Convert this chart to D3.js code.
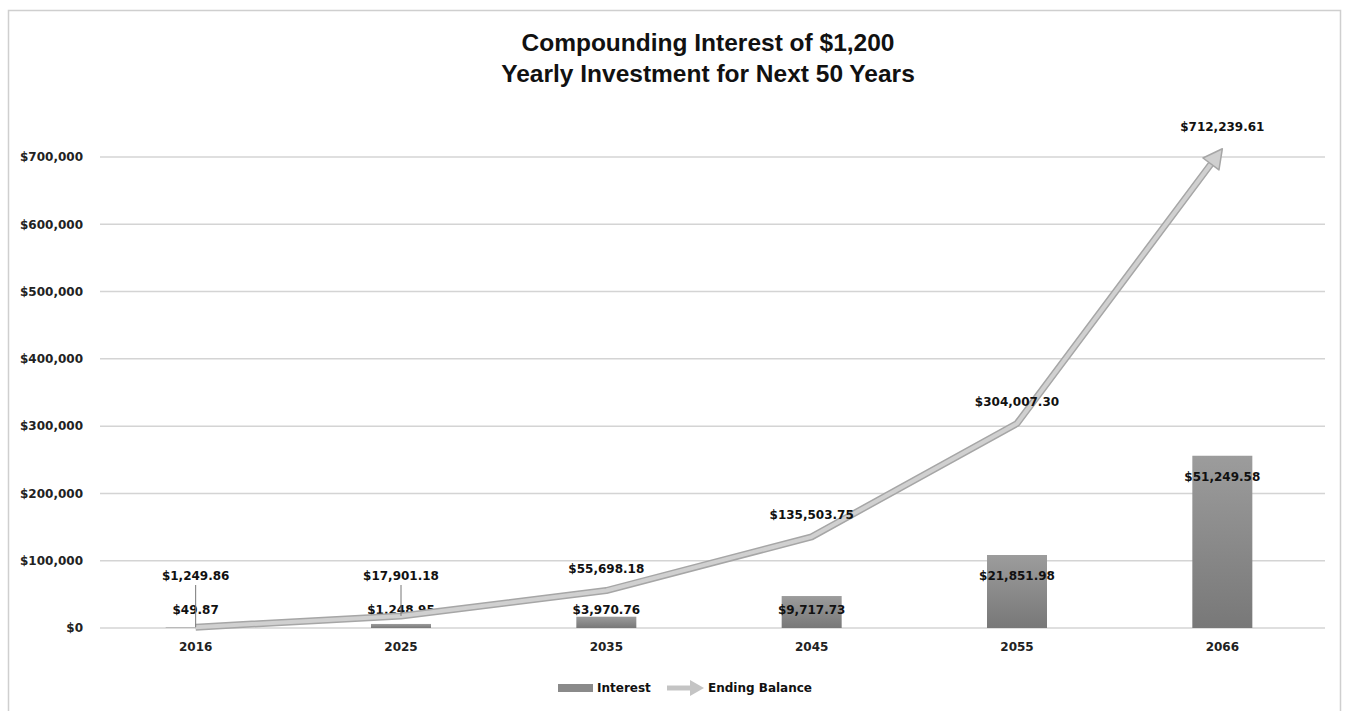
<!DOCTYPE html>
<meta charset="utf-8">
<title>Compounding Interest</title>
<style>
  body { margin: 0; background: #fff; }
  .title { font-family: "Liberation Sans", Arial, sans-serif; font-weight: bold; font-size: 24.5px; fill: #111; }
  .lbl { font-family: "DejaVu Sans", Verdana, sans-serif; font-weight: bold; font-size: 12px; fill: #111; }
  .axis text { font-family: "DejaVu Sans", Verdana, sans-serif; font-weight: bold; font-size: 12px; fill: #222; }
  .grid line { stroke: #d4d4d4; stroke-width: 1.5px; }
  .leader { stroke: #777; stroke-width: 1px; }
</style>
<svg width="1349" height="711"></svg>
<script src="https://d3js.org/d3.v7.min.js"></script>
<script>
  var years = ["2016", "2025", "2035", "2045", "2055", "2066"];
  var endingBalance = [1249.86, 17901.18, 55698.18, 135503.75, 304007.30, 712239.61];
  var interestLabels = [49.87, 1248.95, 3970.76, 9717.73, 21851.98, 51249.58];
  // bar heights as they are drawn in the picture (they do not follow the labels)
  var interestBars = [800, 6000, 16800, 47500, 108500, 256000];
  var yTicks = [0, 100000, 200000, 300000, 400000, 500000, 600000, 700000];

  var svg = d3.select("svg");
  var fmt = d3.format("$,.2f");
  var fmtAxis = d3.format("$,.0f");

  // frame
  svg.append("rect")
    .attr("x", 8.5).attr("y", 10.5)
    .attr("width", 1332).attr("height", 710)
    .attr("fill", "#fff")
    .attr("stroke", "#cfcfcf")
    .attr("stroke-width", 1.5);

  svg.append("text").attr("class", "title")
    .attr("x", 708).attr("y", 51).attr("text-anchor", "middle")
    .text("Compounding Interest of $1,200");
  svg.append("text").attr("class", "title")
    .attr("x", 708).attr("y", 82).attr("text-anchor", "middle")
    .text("Yearly Investment for Next 50 Years");

  var x = d3.scaleBand().domain(years).range([93, 1325]);
  var y = d3.scaleLinear().domain([0, 700000]).range([628, 157]);
  var cx = function (d) { return x(d) + x.bandwidth() / 2; };

  // gridlines
  svg.append("g").attr("class", "grid")
    .selectAll("line").data(yTicks).enter().append("line")
    .attr("x1", 100).attr("x2", 1325)
    .attr("y1", function (d) { return y(d); })
    .attr("y2", function (d) { return y(d); });

  var yAxis = svg.append("g").attr("class", "axis")
    .attr("transform", "translate(91,0)")
    .call(d3.axisLeft(y).tickValues(yTicks).tickFormat(fmtAxis).tickSize(0).tickPadding(8));
  yAxis.select(".domain").remove();

  var xAxis = svg.append("g").attr("class", "axis")
    .attr("transform", "translate(0,628)")
    .call(d3.axisBottom(x).tickSize(0).tickPadding(14));
  xAxis.select(".domain").remove();

  // bar gradient
  var defs = svg.append("defs");
  var grad = defs.append("linearGradient").attr("id", "barGrad")
    .attr("x1", 0).attr("y1", 0).attr("x2", 0).attr("y2", 1);
  grad.append("stop").attr("offset", "0%").attr("stop-color", "#9c9c9c");
  grad.append("stop").attr("offset", "100%").attr("stop-color", "#787878");

  var barW = 60;
  svg.append("g").selectAll("rect").data(years).enter().append("rect")
    .attr("x", function (d) { return cx(d) - barW / 2; })
    .attr("y", function (d, i) { return y(interestBars[i]); })
    .attr("width", barW)
    .attr("height", function (d, i) { return y(0) - y(interestBars[i]); })
    .attr("fill", "url(#barGrad)");

  // interest labels
  svg.append("g").selectAll("text").data(years).enter().append("text")
    .attr("class", "lbl")
    .attr("x", cx)
    .attr("y", function (d, i) { return Math.min(y(interestBars[i]) + 21, 610); })
    .attr("dy", "0.35em")
    .attr("text-anchor", "middle")
    .text(function (d, i) { return fmt(interestLabels[i]); });

  // ending balance line with arrow head
  var pts = years.map(function (d, i) { return [cx(d), y(endingBalance[i])]; });
  var n = pts.length;
  var p1 = pts[n - 2], p2 = pts[n - 1];
  var ang = Math.atan2(p2[1] - p1[1], p2[0] - p1[0]);
  var headLen = 19, headW = 10;
  var base = [p2[0] - headLen * Math.cos(ang), p2[1] - headLen * Math.sin(ang)];
  var linePts = pts.slice(0, n - 1).concat([base]);
  var line = d3.line();
  svg.append("path").datum(linePts)
    .attr("d", line).attr("fill", "none")
    .attr("stroke", "#a6a6a6").attr("stroke-width", 7).attr("stroke-linejoin", "round");
  svg.append("path").datum(linePts)
    .attr("d", line).attr("fill", "none")
    .attr("stroke", "#d0d0d0").attr("stroke-width", 4).attr("stroke-linejoin", "round");
  var nx = -Math.sin(ang), ny = Math.cos(ang);
  var head = [
    [p2[0], p2[1]],
    [base[0] + nx * headW, base[1] + ny * headW],
    [base[0] - nx * headW, base[1] - ny * headW]
  ];
  svg.append("path")
    .attr("d", "M" + head.join("L") + "Z")
    .attr("fill", "#d0d0d0").attr("stroke", "#a6a6a6").attr("stroke-width", 1.5)
    .attr("stroke-linejoin", "round");

  // ending balance labels and leader lines
  var balY = function (i) { return Math.min(y(endingBalance[i]) - 22, 576); };
  svg.append("g").selectAll("line").data(years.filter(function (d, i) { return y(endingBalance[i]) - balY(i) > 30; }))
    .enter().append("line").attr("class", "leader")
    .attr("x1", cx).attr("x2", cx)
    .attr("y1", function (d) { return balY(years.indexOf(d)) + 9; })
    .attr("y2", function (d) { return y(endingBalance[years.indexOf(d)]); });
  svg.append("g").selectAll("text").data(years).enter().append("text")
    .attr("class", "lbl")
    .attr("x", cx)
    .attr("y", function (d, i) { return balY(i); })
    .attr("dy", "0.35em")
    .attr("text-anchor", "middle")
    .text(function (d, i) { return fmt(endingBalance[i]); });

  // legend
  var lg = svg.append("g").attr("transform", "translate(0,688)");
  lg.append("rect").attr("x", 558).attr("y", -4).attr("width", 35).attr("height", 8).attr("fill", "#8a8a8a");
  lg.append("text").attr("class", "lbl").attr("x", 597).attr("dy", "0.35em").text("Interest");
  lg.append("path")
    .attr("d", "M667,0L692,0")
    .attr("stroke", "#c4c4c4").attr("stroke-width", 5);
  lg.append("path")
    .attr("d", "M704,0L690,-8L690,8Z")
    .attr("fill", "#c4c4c4");
  lg.append("text").attr("class", "lbl").attr("x", 708).attr("dy", "0.35em").text("Ending Balance");
</script>
